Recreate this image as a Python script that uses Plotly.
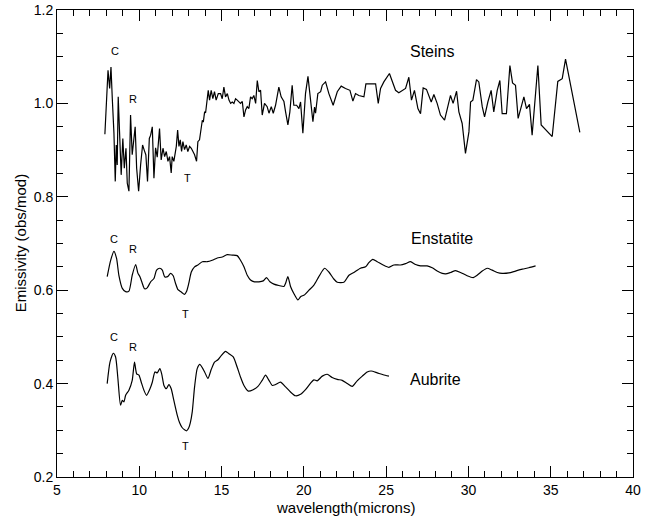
import plotly.graph_objects as go

steins_x = [7.91, 8.10, 8.20, 8.28, 8.36, 8.46, 8.54, 8.60, 8.66, 8.72, 8.80, 8.90, 9.00, 9.09, 9.19, 9.27,
            9.37, 9.47, 9.57, 9.67, 9.75, 9.84, 9.96, 10.08, 10.20, 10.30, 10.40, 10.50, 10.61, 10.69, 10.79,
            10.89, 10.99, 11.09, 11.23, 11.33, 11.44, 11.54, 11.64, 11.74, 11.84, 11.94, 12.00, 12.10, 12.25,
            12.33, 12.41, 12.49, 12.57, 12.65, 12.75, 12.85, 12.95, 13.06, 13.16, 13.26, 13.36, 13.48, 13.56,
            13.66, 13.76, 13.83, 13.89, 13.97, 14.03, 14.13, 14.19, 14.27, 14.37, 14.47, 14.57, 14.67, 14.80,
            14.94, 15.04, 15.14, 15.24, 15.35, 15.45, 15.55, 15.65, 15.75, 15.85, 15.95, 16.05, 16.15, 16.26,
            16.36, 16.46, 16.56, 16.66, 16.76, 16.86, 16.96, 17.07, 17.17, 17.27, 17.37, 17.47, 17.61, 17.77,
            17.88, 18.02, 18.14, 18.28, 18.48, 18.62, 18.79, 18.89, 19.03, 19.15, 19.29, 19.39, 19.56, 19.70,
            19.80, 19.94, 20.10, 20.25, 20.40, 20.55, 20.65, 20.71, 20.85, 21.02, 21.12, 21.32, 21.52, 21.78,
            22.03, 22.27, 22.53, 22.80, 22.98, 23.14, 23.34, 23.65, 23.77, 24.05, 24.36, 24.52, 24.66, 24.86,
            25.20, 25.57, 25.77, 26.18, 26.38, 26.54, 26.72, 26.93, 27.09, 27.25, 27.45, 27.74, 27.90, 28.10,
            28.30, 28.55, 28.71, 28.91, 29.07, 29.28, 29.42, 29.62, 29.82, 30.03, 30.13, 30.27, 30.49, 30.63,
            30.84, 30.98, 31.18, 31.38, 31.54, 31.75, 31.91, 32.05, 32.31, 32.52, 32.68, 32.86, 33.02, 33.37,
            33.53, 33.71, 33.87, 34.22, 34.42, 35.09, 35.43, 35.70, 35.90, 36.77]
steins_y = [0.934, 1.071, 1.032, 1.078, 1.010, 0.936, 0.833, 0.911, 0.868, 1.014, 0.939, 0.847, 0.925, 0.861,
            0.904, 0.829, 0.812, 0.975, 0.890, 0.918, 0.950, 0.861, 0.812, 0.868, 0.911, 0.900, 0.890, 0.833,
            0.925, 0.932, 0.950, 0.840, 0.905, 0.885, 0.946, 0.879, 0.904, 0.886, 0.897, 0.876, 0.886, 0.851,
            0.886, 0.876, 0.908, 0.943, 0.908, 0.922, 0.897, 0.918, 0.901, 0.911, 0.897, 0.908, 0.904, 0.897,
            0.890, 0.876, 0.918, 0.922, 0.943, 0.964, 0.960, 0.982, 0.980, 1.007, 1.028, 1.007, 1.028, 1.010,
            1.025, 1.007, 1.021, 1.021, 1.010, 1.035, 1.014, 1.021, 1.007, 1.000, 1.003, 1.000, 1.010, 1.007,
            1.004, 1.000, 1.004, 0.971, 0.986, 0.993, 0.989, 1.014, 1.010, 1.017, 1.000, 1.049, 1.025, 1.028,
            0.975, 1.000, 0.993, 0.979, 0.993, 0.979, 0.996, 1.035, 1.014, 1.004, 0.982, 0.954, 0.982, 1.039,
            0.996, 0.996, 0.989, 1.003, 0.936, 1.021, 1.058, 1.011, 0.961, 0.992, 0.979, 1.021, 1.025, 1.039,
            1.046, 1.021, 0.996, 1.025, 1.037, 1.032, 1.028, 1.005, 1.021, 1.017, 1.014, 1.042, 1.042, 1.042,
            1.000, 1.032, 1.046, 1.064, 1.028, 1.023, 1.032, 1.056, 1.007, 1.028, 0.989, 0.978, 1.033, 1.030,
            1.003, 1.019, 1.000, 0.975, 0.964, 0.989, 1.017, 1.000, 1.026, 0.982, 0.957, 0.893, 0.939, 1.003,
            1.007, 1.051, 1.046, 0.993, 0.971, 1.003, 1.028, 0.982, 1.028, 1.049, 0.978, 0.978, 1.081, 1.044,
            1.039, 0.968, 1.014, 0.989, 0.998, 0.932, 1.081, 0.954, 0.929, 1.047, 1.053, 1.095, 0.938]

enst_x = [8.05, 8.26, 8.46, 8.62, 8.76, 8.97, 9.17, 9.37, 9.57, 9.78, 9.92, 10.04, 10.18, 10.32, 10.48, 10.69,
          10.89, 11.05, 11.25, 11.40, 11.54, 11.72, 11.90, 12.06, 12.20, 12.35, 12.55, 12.75, 12.87, 13.01,
          13.16, 13.36, 13.56, 13.83, 14.13, 14.43, 14.74, 15.04, 15.34, 15.65, 15.95, 16.15, 16.36, 16.56,
          16.76, 17.00, 17.27, 17.53, 17.73, 17.94, 18.18, 18.48, 18.79, 18.89, 19.03, 19.19, 19.39, 19.64,
          19.80, 20.04, 20.31, 20.61, 20.91, 21.26, 21.52, 21.82, 22.03, 22.43, 22.74, 23.04, 23.44, 23.75,
          23.95, 24.19, 24.46, 24.82, 25.17, 25.47, 25.87, 26.18, 26.48, 26.79, 27.09, 27.49, 27.80, 28.10,
          28.41, 28.61, 28.91, 29.22, 29.52, 29.92, 30.29, 30.53, 30.84, 31.14, 31.44, 31.75, 32.05, 32.46,
          32.86, 33.27, 33.67, 34.08]
enst_y = [0.629, 0.664, 0.683, 0.668, 0.632, 0.604, 0.597, 0.598, 0.632, 0.655, 0.636, 0.629, 0.615, 0.603,
          0.605, 0.618, 0.625, 0.643, 0.647, 0.643, 0.629, 0.629, 0.636, 0.631, 0.615, 0.601, 0.596, 0.591,
          0.597, 0.615, 0.639, 0.650, 0.654, 0.661, 0.661, 0.664, 0.669, 0.671, 0.676, 0.675, 0.674, 0.664,
          0.650, 0.632, 0.622, 0.618, 0.618, 0.620, 0.627, 0.618, 0.613, 0.610, 0.608, 0.615, 0.629, 0.608,
          0.593, 0.579, 0.586, 0.590, 0.600, 0.611, 0.629, 0.647, 0.639, 0.624, 0.617, 0.617, 0.632, 0.638,
          0.647, 0.650, 0.659, 0.666, 0.661, 0.654, 0.649, 0.654, 0.654, 0.657, 0.661, 0.655, 0.652, 0.652,
          0.648, 0.641, 0.636, 0.635, 0.638, 0.642, 0.638, 0.631, 0.627, 0.632, 0.641, 0.647, 0.643, 0.638,
          0.636, 0.637, 0.641, 0.645, 0.648, 0.652]

aub_x = [8.05, 8.22, 8.42, 8.56, 8.70, 8.86, 8.97, 9.07, 9.17, 9.37, 9.57, 9.71, 9.84, 9.98, 10.12, 10.28,
         10.44, 10.65, 10.79, 10.95, 11.09, 11.25, 11.36, 11.50, 11.64, 11.80, 11.94, 12.10, 12.31, 12.45,
         12.60, 12.75, 12.88, 13.00, 13.10, 13.22, 13.36, 13.52, 13.68, 13.97, 14.17, 14.37, 14.57, 14.78,
         14.98, 15.24, 15.45, 15.71, 15.95, 16.15, 16.36, 16.62, 16.92, 17.21, 17.47, 17.67, 17.88, 18.08,
         18.28, 18.58, 18.89, 19.19, 19.49, 19.80, 20.10, 20.41, 20.61, 20.81, 21.12, 21.42, 21.72, 22.03,
         22.33, 22.64, 22.94, 23.24, 23.55, 23.85, 24.09, 24.46, 24.82, 25.17]
aub_y = [0.400, 0.446, 0.465, 0.457, 0.411, 0.354, 0.364, 0.361, 0.375, 0.386, 0.407, 0.446, 0.421, 0.418,
         0.403, 0.386, 0.375, 0.389, 0.403, 0.425, 0.423, 0.432, 0.421, 0.396, 0.389, 0.398, 0.389, 0.364,
         0.332, 0.316, 0.306, 0.301, 0.299, 0.305, 0.316, 0.340, 0.393, 0.432, 0.441, 0.425, 0.411, 0.430,
         0.446, 0.451, 0.460, 0.469, 0.464, 0.457, 0.435, 0.414, 0.396, 0.384, 0.387, 0.394, 0.407, 0.418,
         0.407, 0.396, 0.398, 0.403, 0.393, 0.382, 0.374, 0.377, 0.387, 0.401, 0.408, 0.406, 0.416, 0.420,
         0.413, 0.409, 0.407, 0.400, 0.394, 0.406, 0.416, 0.425, 0.427, 0.423, 0.419, 0.416]

series_names = ["Steins", "Enstatite", "Aubrite"]
name_pos = [(27.8, 1.112), (28.4, 0.711), (28.0, 0.409)]
mark_text = ["C", "R", "T"]
mark_pos = {
    "Steins": [(8.5, 1.112), (9.61, 1.010), (12.92, 0.840)],
    "Enstatite": [(8.48, 0.709), (9.61, 0.689), (12.83, 0.549)],
    "Aubrite": [(8.48, 0.499), (9.61, 0.479), (12.83, 0.267)],
}

FONT = "Liberation Sans, Arial, Helvetica, sans-serif"

fig = go.Figure()
fig.add_trace(go.Scatter(x=steins_x, y=steins_y, mode="lines",
                         line=dict(color="black", width=1.2), showlegend=False, hoverinfo="skip"))
fig.add_trace(go.Scatter(x=enst_x, y=enst_y, mode="lines",
                         line=dict(color="black", width=1.2, shape="spline", smoothing=0.6),
                         showlegend=False, hoverinfo="skip"))
fig.add_trace(go.Scatter(x=aub_x, y=aub_y, mode="lines",
                         line=dict(color="black", width=1.2, shape="spline", smoothing=0.6),
                         showlegend=False, hoverinfo="skip"))

annotations = []
for name, (px, py) in zip(series_names, name_pos):
    annotations.append(dict(x=px, y=py, xref="x", yref="y", text=name, showarrow=False,
                            font=dict(family=FONT, size=16, color="black")))
    for t, (mx, my) in zip(mark_text, mark_pos[name]):
        annotations.append(dict(x=mx, y=my, xref="x", yref="y", text=t, showarrow=False,
                                font=dict(family=FONT, size=11, color="black")))

annotations.append(dict(x=0.5, y=-0.066, xref="paper", yref="paper", text="wavelength(microns)",
                        showarrow=False, yanchor="middle", font=dict(family=FONT, size=15, color="black")))
annotations.append(dict(x=-0.063, y=0.5, xref="paper", yref="paper", text="Emissivity (obs/mod)",
                        showarrow=False, textangle=-90, xanchor="center", yanchor="middle",
                        font=dict(family=FONT, size=15, color="black")))

fig.update_layout(
    width=645, height=519,
    margin=dict(l=57, r=12, t=10, b=42, autoexpand=False),
    paper_bgcolor="white", plot_bgcolor="white",
    font=dict(family=FONT, size=14, color="black"),
    annotations=annotations,
    hovermode=False,
    xaxis=dict(range=[5, 40], dtick=5, tick0=5, showgrid=False, zeroline=False, automargin=False,
               showline=True, linecolor="black", linewidth=1, mirror="ticks",
               ticks="inside", ticklen=11, tickwidth=1, tickcolor="black",
               tickfont=dict(family=FONT, size=14, color="black"),
               minor=dict(dtick=1, ticks="inside", ticklen=6, tickwidth=1, tickcolor="black", showgrid=False)),
    yaxis=dict(range=[0.2, 1.2], dtick=0.2, tick0=0.2, tickformat=".1f", showgrid=False, zeroline=False,
               automargin=False,
               showline=True, linecolor="black", linewidth=1, mirror="ticks",
               ticks="inside", ticklen=11, tickwidth=1, tickcolor="black",
               tickfont=dict(family=FONT, size=14, color="black"),
               minor=dict(dtick=0.05, ticks="inside", ticklen=6, tickwidth=1, tickcolor="black", showgrid=False)),
)

fig.write_html("out.html",
               config={"displayModeBar": False, "staticPlot": True},
               post_script="document.body.style.margin='0';document.body.style.overflow='hidden';")
